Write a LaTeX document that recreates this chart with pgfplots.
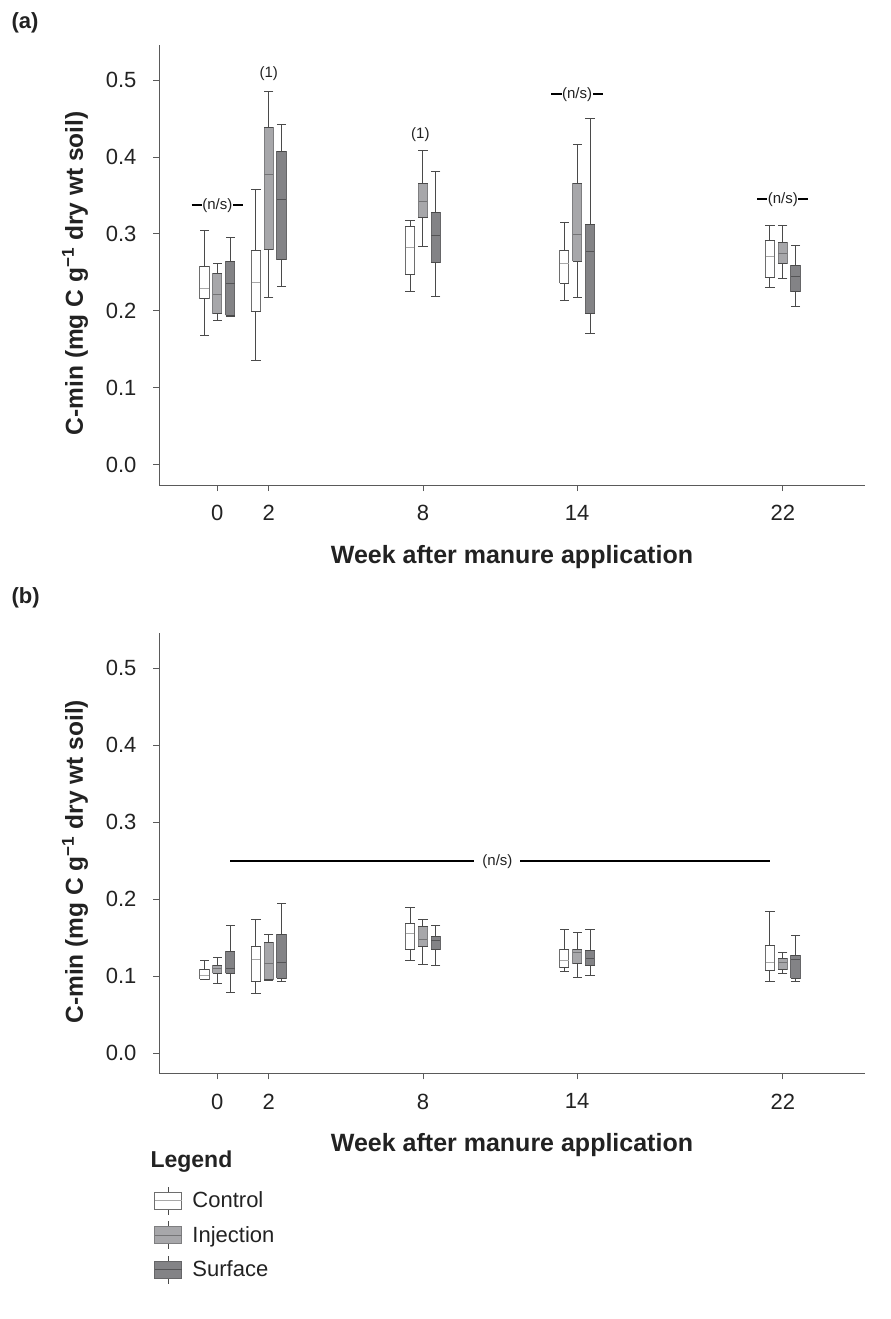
\documentclass[border=0pt]{standalone}
\usepackage{fontspec}
\setmainfont{Liberation Sans}
\usepackage{pgfplots}
\pgfplotsset{compat=1.18}

\definecolor{wcol}{HTML}{4A4A4A}
\definecolor{axcol}{HTML}{5A5A5A}
\definecolor{ctrlb}{HTML}{6E6E6E}
\definecolor{ctrlm}{HTML}{A8A8A8}
\definecolor{injf}{HTML}{A7A7AA}
\definecolor{injb}{HTML}{7E7E80}
\definecolor{injm}{HTML}{747476}
\definecolor{surf}{HTML}{838386}
\definecolor{surb}{HTML}{666668}
\definecolor{surm}{HTML}{545456}
\definecolor{txt}{HTML}{222222}

\pgfplotsset{
  legbox/.style n args={3}{legend image code/.code={
    \draw[wcol, line width=1bp] (13.5bp,8.5bp)--(13.5bp,14bp) (13.5bp,-8.5bp)--(13.5bp,-14bp);
    \draw[#2, fill=#1, line width=1bp] (0bp,-8.5bp) rectangle (27bp,8.5bp);
    \draw[#3, line width=1bp] (0bp,0bp)--(27bp,0bp);}},
  myax/.style={
    scale only axis, width=706bp, height=440bp,
    xmin=-2.27, xmax=25.2, ymin=-0.0264, ymax=0.5455,
    axis x line=bottom, axis y line=left,
    axis line style={axcol, line width=1bp, -},
    xtick={0,2,8,14,22}, ytick={0,0.1,0.2,0.3,0.4,0.5},
    tick align=outside, major tick length=6bp,
    tick style={axcol, line width=0.8bp},
    /pgf/number format/assume math mode=true,
    ticklabel style={font=\fontsize{22bp}{26bp}\selectfont, text=txt},
    xticklabel style={yshift=-11bp},
    yticklabel style={xshift=-13bp, /pgf/number format/.cd, fixed, fixed zerofill, precision=1},
    xlabel={Week after manure application},
    xlabel style={font=\bfseries\fontsize{25bp}{30bp}\selectfont, text=txt,
      at={(axis description cs:0.5,-0.163)}, anchor=center},
    ylabel={C-min (mg C g\textsuperscript{−1} dry wt soil)},
    ylabel style={font=\bfseries\fontsize{24.5bp}{29bp}\selectfont, text=txt,
      at={(axis description cs:-0.119,0.481)}, anchor=center},
  }
}

% #1 fill #2 border #3 median colour #4 position #5 lower whisker #6 Q1 #7 median #8 Q3 #9 upper whisker
\newcommand\bx[9]{%
  \addplot[wcol, line width=1bp, mark=-, mark size=4.63bp, forget plot] coordinates {(#4,#5) (#4,#6)};
  \addplot[wcol, line width=1bp, mark=-, mark size=4.63bp, forget plot] coordinates {(#4,#8) (#4,#9)};
  \addplot[draw=#2, fill=#1, line width=1bp, forget plot] table[row sep=\\, x expr=\thisrow{x}+#4]
    {x y\\ -0.18 #6\\ 0.18 #6\\ 0.18 #8\\ -0.18 #8\\ -0.18 #6\\};
  \addplot[draw=#3, line width=1bp, forget plot] table[row sep=\\, x expr=\thisrow{x}+#4]
    {x y\\ -0.17 #7\\ 0.17 #7\\};
}
\newcommand\bxc[6]{\bx{white}{ctrlb}{ctrlm}{#1}{#2}{#3}{#4}{#5}{#6}}
\newcommand\bxi[6]{\bx{injf}{injb}{injm}{#1}{#2}{#3}{#4}{#5}{#6}}
\newcommand\bxs[6]{\bx{surf}{surb}{surm}{#1}{#2}{#3}{#4}{#5}{#6}}

\begin{document}
\begin{tikzpicture}
\path[use as bounding box] (0,0) rectangle (891bp,-1319bp);

\node[anchor=west, font=\bfseries\fontsize{22bp}{26bp}\selectfont, text=txt] at (8bp,-22.5bp) {(a)};
\node[anchor=west, font=\bfseries\fontsize{22bp}{26bp}\selectfont, text=txt] at (8bp,-598bp) {(b)};

% ---------------- panel (a)
\begin{axis}[myax, at={(159bp,-485bp)}, anchor=south west]
% week 0
\bxc{-0.5}{0.168}{0.216}{0.229}{0.257}{0.305}
\bxi{0}{0.1875}{0.196}{0.221}{0.249}{0.262}
\bxs{0.5}{0.193}{0.194}{0.235}{0.264}{0.295}
% week 2
\bxc{1.5}{0.1355}{0.1996}{0.237}{0.278}{0.358}
\bxi{2}{0.217}{0.280}{0.377}{0.438}{0.485}
\bxs{2.5}{0.232}{0.2667}{0.345}{0.407}{0.4416}
% week 8
\bxc{7.5}{0.225}{0.247}{0.282}{0.309}{0.318}
\bxi{8}{0.283}{0.3217}{0.3416}{0.366}{0.408}
\bxs{8.5}{0.219}{0.263}{0.298}{0.328}{0.381}
% week 14
\bxc{13.5}{0.2135}{0.236}{0.262}{0.278}{0.315}
\bxi{14}{0.217}{0.2645}{0.2996}{0.366}{0.416}
\bxs{14.5}{0.170}{0.1966}{0.277}{0.3126}{0.4506}
% week 22
\bxc{21.5}{0.230}{0.243}{0.270}{0.291}{0.311}
\bxi{22}{0.2425}{0.262}{0.275}{0.2888}{0.311}
\bxs{22.5}{0.206}{0.225}{0.2447}{0.2594}{0.285}
% annotations
\draw[line width=2bp, black] (axis cs:-1,0.337) -- (axis cs:1,0.337);
\node[fill=white, inner sep=0.5bp, font=\fontsize{15bp}{18bp}\selectfont, text=txt] at (axis cs:0,0.337) {(n/s)};
\draw[line width=2bp, black] (axis cs:13,0.4814) -- (axis cs:15,0.4814);
\node[fill=white, inner sep=0.5bp, font=\fontsize{15bp}{18bp}\selectfont, text=txt] at (axis cs:14,0.4814) {(n/s)};
\draw[line width=2bp, black] (axis cs:21,0.3447) -- (axis cs:23,0.3447);
\node[fill=white, inner sep=0.5bp, font=\fontsize{15bp}{18bp}\selectfont, text=txt] at (axis cs:22,0.3447) {(n/s)};
\node[font=\fontsize{15bp}{18bp}\selectfont, text=txt] at (axis cs:2,0.508) {(1)};
\node[font=\fontsize{15bp}{18bp}\selectfont, text=txt] at (axis cs:7.9,0.429) {(1)};
\end{axis}

% ---------------- panel (b)
\begin{axis}[myax, at={(159bp,-1073.3bp)}, anchor=south west,
  legend style={draw=none, fill=none, inner sep=0pt, at={(-0.0067,-0.256)}, anchor=north west,
    font=\fontsize{22bp}{26bp}\selectfont, text=txt, legend cell align=left,
    row sep=5.5bp, /tikz/every odd column/.append style={column sep=8bp}},
  ]
\addlegendimage{legbox={white}{ctrlb}{ctrlm}}
\addlegendentry{Control}
\addlegendimage{legbox={injf}{injb}{injm}}
\addlegendentry{Injection}
\addlegendimage{legbox={surf}{surb}{surm}}
\addlegendentry{Surface}
% week 0
\bxc{-0.5}{0.0955}{0.0961}{0.1004}{0.1087}{0.1208}
\bxi{0}{0.0905}{0.1035}{0.1095}{0.1143}{0.1247}
\bxs{0.5}{0.0792}{0.1035}{0.110}{0.1316}{0.1662}
% week 2
\bxc{1.5}{0.077}{0.0926}{0.1216}{0.1385}{0.174}
\bxi{2}{0.094}{0.0952}{0.1165}{0.1437}{0.1537}
\bxs{2.5}{0.0935}{0.097}{0.1178}{0.1537}{0.1944}
% week 8
\bxc{7.5}{0.1208}{0.135}{0.155}{0.168}{0.1887}
\bxi{8}{0.1147}{0.139}{0.1476}{0.1645}{0.1736}
\bxs{8.5}{0.1134}{0.135}{0.1463}{0.152}{0.1654}
% week 14
\bxc{13.5}{0.1056}{0.1108}{0.1208}{0.1346}{0.161}
\bxi{14}{0.0987}{0.116}{0.1303}{0.1346}{0.1563}
\bxs{14.5}{0.1004}{0.1139}{0.123}{0.1333}{0.161}
% week 22
\bxc{21.5}{0.0926}{0.1074}{0.1178}{0.1398}{0.1835}
\bxi{22}{0.1039}{0.109}{0.1178}{0.1234}{0.1312}
\bxs{22.5}{0.0935}{0.0974}{0.1212}{0.1273}{0.1532}
% annotation
\draw[line width=2bp, black] (axis cs:0.506,0.2494) -- (axis cs:21.49,0.2494);
\node[fill=white, inner xsep=8bp, inner ysep=1.5bp, font=\fontsize{15bp}{18bp}\selectfont, text=txt] at (axis cs:10.9,0.2494) {(n/s)};
\end{axis}

\node[anchor=west, font=\bfseries\fontsize{23bp}{27bp}\selectfont, text=txt] at (147bp,-1162bp) {Legend};
\end{tikzpicture}
\end{document}
